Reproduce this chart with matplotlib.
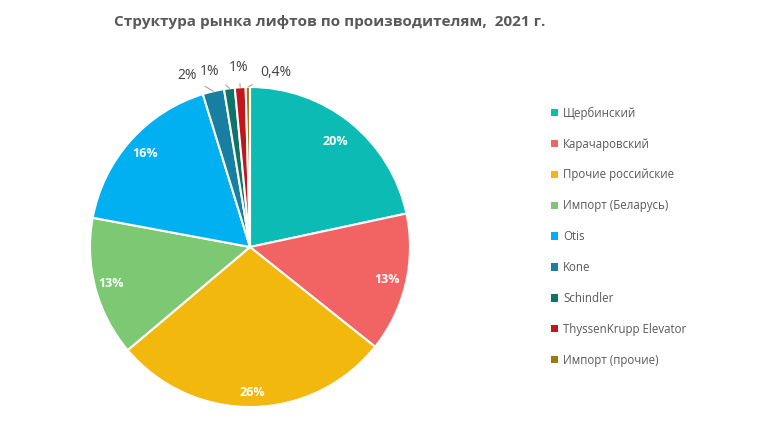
import numpy as np
import matplotlib
matplotlib.use("Agg")
import matplotlib.pyplot as plt

plt.rcParams['font.family'] = ['Open Sans', 'DejaVu Sans']

# данные
labels = ['Щербинский', 'Карачаровский', 'Прочие российские', 'Импорт (Беларусь)',
          'Otis', 'Kone', 'Schindler', 'ThyssenKrupp Elevator', 'Импорт (прочие)']
values = [20, 13, 26, 13, 16, 2, 1, 1, 0.4]
pct_text = ['20%', '13%', '26%', '13%', '16%', '2%', '1%', '1%', '0,4%']
colors = ['#0BBBB4', '#F26464', '#F2B80E', '#7DC873', '#00B0F0',
          '#167FA2', '#0E7468', '#C0161C', '#9C7A0E']

fig = plt.figure(figsize=(7.71, 4.36), dpi=100)
ax = fig.add_axes([90 / 771, 29 / 436, 320 / 771, 320 / 436])

wedges, _ = ax.pie(values, colors=colors, startangle=90, counterclock=False,
                   radius=1, wedgeprops=dict(edgecolor='white', linewidth=1.5))
ax.set_xlim(-1, 1)
ax.set_ylim(-1, 1)
ax.set_aspect('equal')
ax.axis('off')

# подписи: внутри крупных секторов, снаружи - мелких
inner_r = [0.85, 0.88, 0.91, 0.90, 0.88]
outer_pos = {5: (-0.39, 1.07), 6: (-0.25, 1.10), 7: (-0.07, 1.12), 8: (0.16, 1.09)}
for i, w in enumerate(wedges):
    ang = np.deg2rad((w.theta1 + w.theta2) / 2)
    if i in outer_pos:
        tx, ty = outer_pos[i]
        ex, ey = np.cos(ang), np.sin(ang)
        ax.annotate(pct_text[i], xy=(ex, ey), xytext=(tx, ty),
                    ha='center', va='center', fontsize=10, color='#404040',
                    arrowprops=dict(arrowstyle='-', color='#A6A6A6', lw=0.8,
                                    shrinkA=4, shrinkB=0))
    else:
        r = inner_r[i]
        ax.text(np.cos(ang) * r, np.sin(ang) * r, pct_text[i], ha='center', va='center',
                fontsize=9, color='white', fontweight='bold')

fig.text(330 / 771, 1 - 22 / 436, 'Структура рынка лифтов по производителям,  2021 г.',
         ha='center', va='center', fontsize=11, fontweight='bold', color='#595959')

leg = fig.legend(wedges, labels, loc='upper left', bbox_to_anchor=(541 / 771, 1 - 96 / 436),
                 frameon=False, fontsize=8.3, labelcolor='#595959', handlelength=0.6,
                 handleheight=0.6, handletextpad=0.4, labelspacing=1.55)
for h in leg.legend_handles:
    h.set_edgecolor('none')

fig.savefig('out.png', dpi=100)
